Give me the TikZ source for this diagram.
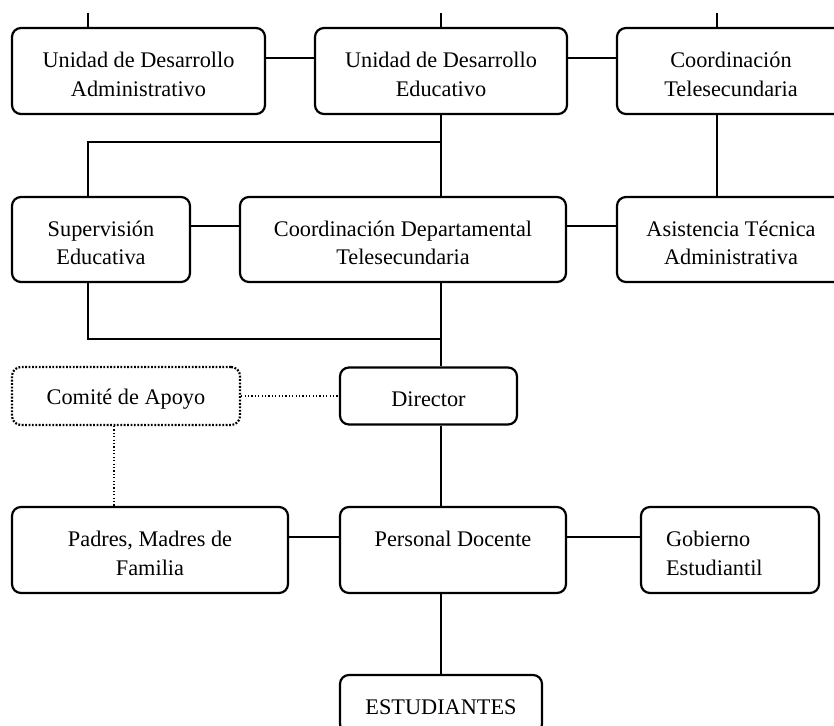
\documentclass[tikz,border=0pt]{standalone}
\usepackage{fontspec}
\setmainfont{Liberation Serif}
\usetikzlibrary{calc}
\newcommand{\fs}{\rule{0pt}{11pt}}

\begin{document}
\begin{tikzpicture}[x=0.5pt,y=-0.5pt,
  box/.style={draw,line width=1.1pt,rounded corners=4.5pt,align=center,
    minimum height=43pt,inner sep=2pt,font=\fontsize{11.15}{14.2}\selectfont},
  dotbox/.style={box,dash pattern=on 0.9pt off 0.8pt},
  link/.style={line width=0.65pt},
  dotlink/.style={link,dash pattern=on 0.6pt off 1.1pt}]
\useasboundingbox (0,0) rectangle (834,726);
\clip (0,0) rectangle (834,726);
\coordinate[] (t1) at (88,13);
\coordinate[] (t2) at (441,13);
\coordinate[] (t3) at (717,13);
\coordinate[] (t4) at (114,0);
\coordinate[] (r1) at (0,58);
\coordinate[] (r2) at (0,226);
\coordinate[] (r4) at (0,537);
\coordinate[] (b1) at (441,142);
\coordinate[] (b2) at (441,339);
\node[box,minimum width=126.5pt] (uda) at (138.5,71) {\fs Unidad de Desarrollo\\Administrativo};
\node[box,minimum width=126pt] (ude) at (441,71) {\fs Unidad de Desarrollo\\Educativo};
\node[box,minimum width=114pt] (cte) at (731,71) {\fs Coordinación\\Telesecundaria};
\node[box,minimum width=89pt,minimum height=42.5pt] (sup) at (101,239.5) {\fs Supervisión\\Educativa};
\node[box,minimum width=163pt,minimum height=42.5pt] (cdt) at (403,239.5) {\fs Coordinación Departamental\\Telesecundaria};
\node[box,minimum width=114pt,minimum height=42.5pt] (ast) at (731,239.5) {\fs Asistencia Técnica\\Administrativa};
\node[dotbox,minimum width=114pt,minimum height=29pt] (com) at (126,396) {\fs Comité de Apoyo};
\node[box,minimum width=88.5pt,minimum height=28.5pt] (dir) at (428.5,396) {\fs Director};
\node[box,minimum width=138pt] (pad) at (150,550) {\fs Padres, Madres de\\Familia};
\node[box,minimum width=113pt] (doc) at (453,550) {\fs Personal Docente\\\mbox{}};
\node[box,align=left,text width=64pt,inner xsep=12.5pt] (gob) at (730,550) {\fs Gobierno\\Estudiantil};
\node[box,minimum width=101pt,minimum height=29pt] (est) at (441,704) {\fs ESTUDIANTES};
\foreach \t/\n in {t1/uda,t2/ude,t3/cte}
  \draw[link] (\t) -- (\t |- \n.north);
\draw[link] (uda.east |- r1) -- (ude.west |- r1);
\draw[link] (ude.east |- r1) -- (cte.west |- r1);
\draw[link] (ude.south) -- (t2 |- cdt.north);
\draw[link] (t1 |- sup.north) -- (t1 |- b1) -- (b1);
\draw[link] (t3 |- cte.south) -- (t3 |- ast.north);
\draw[link] (sup.east |- r2) -- (cdt.west |- r2);
\draw[link] (cdt.east |- r2) -- (ast.west |- r2);
\draw[link] (t1 |- sup.south) -- (t1 |- b2) -- (b2);
\draw[link] (t2 |- cdt.south) -- (t2 |- dir.north);
\draw[dotlink] (com.east) -- (dir.west);
\draw[dotlink] (t4 |- com.south) -- (t4 |- pad.north);
\draw[link] (t2 |- dir.south) -- (t2 |- doc.north);
\draw[link] (pad.east |- r4) -- (doc.west |- r4);
\draw[link] (doc.east |- r4) -- (gob.west |- r4);
\draw[link] (t2 |- doc.south) -- (est.north);
\end{tikzpicture}
\end{document}
